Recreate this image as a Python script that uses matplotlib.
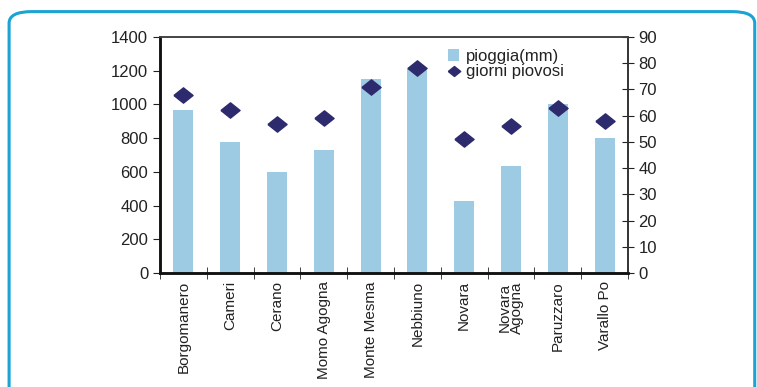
import numpy as np
import matplotlib.pyplot as plt
from matplotlib.patches import FancyBboxPatch

plt.rcParams['font.family'] = ['Liberation Sans', 'DejaVu Sans']

stazioni = ["Borgomanero", "Cameri", "Cerano", "Momo Agogna", "Monte Mesma",
            "Nebbiuno", "Novara", "Novara\nAgogna", "Paruzzaro", "Varallo Po"]
pioggia = [965, 775, 600, 730, 1150, 1215, 425, 635, 1005, 800]
giorni = [68, 62, 57, 59, 71, 78, 51, 56, 63, 58]

fig = plt.figure(figsize=(7.57, 3.87), dpi=100)

# cornice arrotondata
frame = FancyBboxPatch((0.012, -0.05), 0.985, 1.02, boxstyle="round,pad=0,rounding_size=0.03",
                       transform=fig.transFigure, fill=False, edgecolor='#1ba3d4', linewidth=2.2,
                       clip_on=False)
fig.patches.append(frame)

ax = fig.add_axes([160 / 757, 1 - 273 / 387, (628 - 160) / 757, (273 - 37) / 387])
x = np.arange(len(stazioni))
ax.bar(x, pioggia, width=0.43, color='#9ccbe3', label='pioggia(mm)', zorder=2)
ax.set_xlim(-0.5, len(stazioni) - 0.5)
ax.set_ylim(0, 1400)
ax.set_yticks(range(0, 1401, 200))

rombo = [(-1, 0), (0, 0.8), (1, 0), (0, -0.8), (-1, 0)]
ax2 = ax.twinx()
ax2.scatter(x, giorni, marker=rombo, s=190, color='#2e2a6e', label='giorni piovosi', zorder=3)
ax2.set_ylim(0, 90)
ax2.set_yticks(range(0, 91, 10))

ax.set_xticks(x)
ax.set_xticklabels(stazioni, rotation=90, fontsize=11, color='#222222', linespacing=0.85)
ax.set_xticks(np.arange(-0.5, len(stazioni)), minor=True)
ax.tick_params(axis='x', which='major', length=0, pad=6)
ax.tick_params(axis='x', which='minor', length=8, direction='inout', color='#222222')
ax.tick_params(axis='y', length=5, direction='out', labelsize=12, colors='#222222')
ax2.tick_params(axis='y', length=8, direction='inout', labelsize=12, colors='#222222')

for a in (ax, ax2):
    a.spines['left'].set_linewidth(1.8)
    a.spines['left'].set_color('#111111')
    a.spines['bottom'].set_linewidth(1.8)
    a.spines['bottom'].set_color('#111111')
    a.spines['right'].set_linewidth(1.2)
    a.spines['right'].set_color('#333333')
    a.spines['top'].set_linewidth(1.2)
    a.spines['top'].set_color('#444444')

h1, l1 = ax.get_legend_handles_labels()
h2, l2 = ax2.get_legend_handles_labels()
ax2.legend(h1 + h2, l1 + l2, loc='upper left', bbox_to_anchor=(0.59, 1.0), frameon=False,
           fontsize=12, handlelength=0.7, handletextpad=0.4, labelspacing=0.0,
           borderaxespad=0.3, markerscale=0.65, labelcolor='#222222')

fig.savefig('out.png', dpi=100)
